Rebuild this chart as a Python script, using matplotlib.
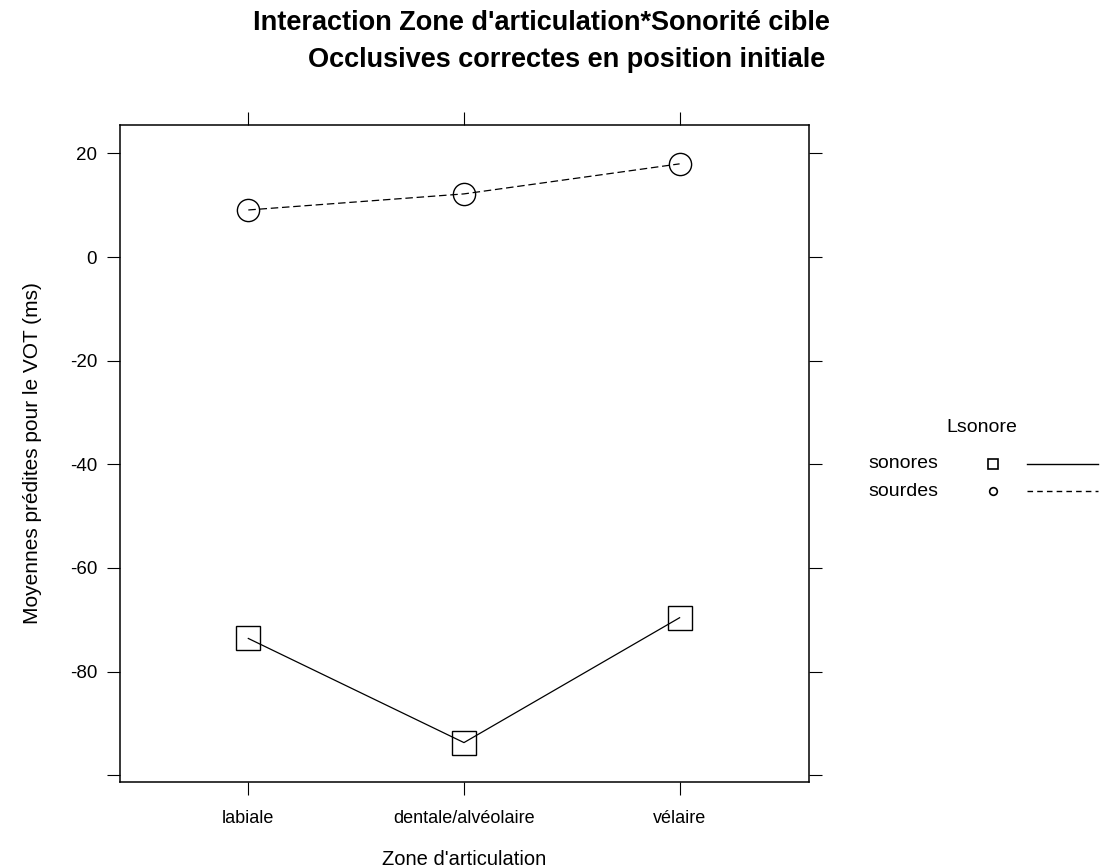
import numpy as np
import matplotlib.pyplot as plt
from matplotlib.lines import Line2D

plt.rcParams['font.family'] = ['Liberation Sans', 'DejaVu Sans']

zones = ['labiale', 'dentale/alvéolaire', 'vélaire']
sonores = [-73.6, -93.7, -69.6]
sourdes = [9.1, 12.2, 18.0]
y_ticks = [20, 0, -20, -40, -60, -80, -100]
y_labels = ['20', '0', '-20', '-40', '-60', '-80', '']

fig = plt.figure(figsize=(11.02, 8.68), dpi=100)
ax = fig.add_axes([0.1089, 0.0991, 0.6252, 0.7569])

x = np.arange(1, len(zones) + 1)
ax.plot(x, sonores, color='black', linewidth=0.9, linestyle='-',
        marker='s', markersize=17, markerfacecolor='none', markeredgewidth=1.0)
ax.plot(x, sourdes, color='black', linewidth=0.9, linestyle=(0, (6, 3)),
        marker='o', markersize=16, markerfacecolor='none', markeredgewidth=1.0)

ax.set_xlim(0.405, 3.6)
ax.set_ylim(-101.3, 25.5)
ax.set_xticks(x, zones, fontsize=13)
ax.set_yticks(y_ticks, y_labels, fontsize=13.5)
ax.tick_params(direction='out', length=9.5, width=0.8, top=True, right=True,
               labeltop=False, labelright=False, pad=7)
ax.tick_params(axis='x', pad=11)
for s in ax.spines.values():
    s.set_linewidth(1.1)

ax.set_xlabel("Zone d'articulation", fontsize=14.5, labelpad=16)
ax.set_ylabel('Moyennes prédites pour le VOT (ms)', fontsize=15, labelpad=20)
fig.text(541 / 1102, 0.974, "Interaction Zone d'articulation*Sonorité cible",
         ha='center', va='center', fontsize=19.5, fontweight='bold')
fig.text(567 / 1102, 0.931, 'Occlusives correctes en position initiale',
         ha='center', va='center', fontsize=19.5, fontweight='bold')

# legend drawn as in lattice: label, symbol, line columns
fig.text(982 / 1102, 1 - 428 / 868, 'Lsonore', ha='center', va='center', fontsize=14)
leg_rows = [('sonores', 's', '-', 464), ('sourdes', 'o', (0, (4, 3)), 491)]
for lab, mk, ls, ypx in leg_rows:
    yf = 1 - ypx / 868
    fig.text(868 / 1102, yf, lab, ha='left', va='center', fontsize=14)
    fig.add_artist(Line2D([993 / 1102], [yf], marker=mk, markersize=7 if mk == 's' else 5.5,
                          markerfacecolor='none', markeredgecolor='black',
                          markeredgewidth=1.2, linestyle='none', transform=fig.transFigure))
    fig.add_artist(Line2D([1027 / 1102, 1098 / 1102], [yf, yf], color='black',
                          linewidth=1.0, linestyle=ls, transform=fig.transFigure))

fig.savefig('out.png', dpi=100)
